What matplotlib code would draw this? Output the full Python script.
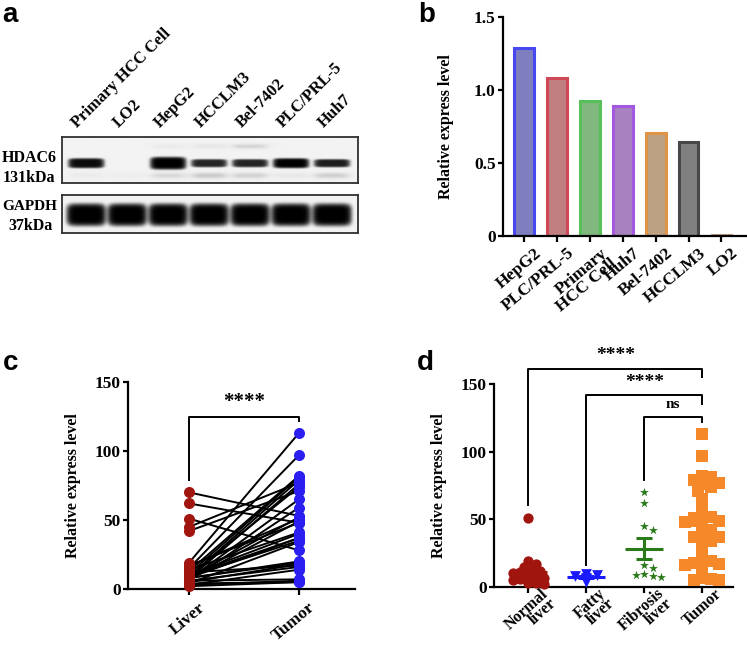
import numpy as np
import matplotlib
matplotlib.use('Agg')
import matplotlib.pyplot as plt
import matplotlib.transforms as mtransforms

# ---------------- data ----------------
lanes = ['Primary HCC Cell', 'LO2', 'HepG2', 'HCCLM3', 'Bel-7402', 'PLC/PRL-5', 'Huh7']
hdac6_band = [0.95, 0.0, 1.0, 0.85, 0.85, 1.0, 0.88]
hdac6_thick = [0.11, 0.11, 0.14, 0.09, 0.09, 0.11, 0.09]
hdac6_lower = [0.03, 0.02, 0.10, 0.16, 0.13, 0.04, 0.14]
hdac6_upper = [0.0, 0.0, 0.03, 0.05, 0.12, 0.0, 0.0]
gapdh_band = [1.0, 1.0, 1.0, 1.0, 1.0, 1.0, 1.0]

cells = ['HepG2', 'PLC/PRL-5', 'Primary\nHCC Cell', 'Huh7', 'Bel-7402', 'HCCLM3', 'LO2']
cell_level = [1.29, 1.085, 0.925, 0.89, 0.705, 0.645, 0.008]
cell_fill = ['#7f7fc0', '#c07f80', '#80b880', '#a882c0', '#bca183', '#808080', '#c0a080']
cell_edge = ['#4848f0', '#d04858', '#58c058', '#a458e0', '#e09448', '#484848', '#c0a080']

normal_liver = [51, 19, 17, 15, 13, 12, 11, 10, 9, 8, 7, 6, 6, 5, 4, 3, 3, 2]
fatty_liver = [9.5, 8.5, 8, 7, 6, 4]
fibrosis_liver = [70, 62, 45, 42, 16.5, 14, 9.5, 9, 8, 7.5]
# tumour values paired with normal, fatty and fibrosis samples (same order)
tumor_normal = [28, 113, 48, 97, 82, 17, 81, 40, 79, 37, 65, 7, 59, 18, 34, 6, 14, 5]
tumor_fatty = [74, 52, 20, 49, 16, 5]
tumor_fibrosis = [53, 48, 77, 71, 51, 41, 37, 35, 19, 76]

groups = ['Normal\nliver', 'Fatty\nliver', 'Fibrosis\nliver', 'Tumor']

serif = 'Liberation Serif'
sans = 'Liberation Sans'
plt.rcParams['font.family'] = serif
plt.rcParams['font.weight'] = 'bold'

W, H = 747, 645
fig = plt.figure(figsize=(W / 100, H / 100), dpi=100)


def box(l, t, r, b):
    return [l / W, 1 - b / H, (r - l) / W, (b - t) / H]


def style_axes(ax, lw=1.6):
    for s in ['top', 'right']:
        ax.spines[s].set_visible(False)
    for s in ['left', 'bottom']:
        ax.spines[s].set_linewidth(lw)
    ax.tick_params(width=lw, length=3.8, labelsize=12.5, pad=1.5)
    for t in ax.get_yticklabels() + ax.get_xticklabels():
        t.set_fontweight('bold')


def shift_xlabels(ax, dx, dy):
    off = mtransforms.ScaledTranslation(dx / 100, -dy / 100, fig.dpi_scale_trans)
    for t in ax.get_xticklabels():
        t.set_transform(t.get_transform() + off)


# ---------------- panel a : blot ----------------
def lane_pos(i):
    return 0.57 + 0.97 * i


def blot(ax, levels, y0, thick, ww, extra=()):
    n = len(levels)
    xs = np.linspace(0, n, 700)
    ys = np.linspace(0, 1, 140)
    X, Y = np.meshgrid(xs, ys)
    img = np.full_like(X, 0.95)
    for i, a in enumerate(levels):
        hh = thick[i] if np.ndim(thick) else thick
        dx = (X - lane_pos(i)) / ww
        dy = (Y - y0) / hh
        r = (np.abs(dx) ** 6 + np.abs(dy) ** 4)
        img -= a * np.exp(-r ** 1.6) * 0.95
    for lev, yy, hy in extra:
        for i, a in enumerate(lev):
            fx = 1 / (1 + ((X - lane_pos(i)) / (ww * 0.9)) ** 6)
            fy = np.exp(-((Y - yy) / hy) ** 2)
            img -= a * fx * fy
    ax.imshow(np.clip(img, 0, 1), cmap='gray', vmin=0, vmax=1,
              extent=(0, n, 1, 0), aspect='auto', interpolation='bilinear')
    ax.set_xticks([])
    ax.set_yticks([])
    for s in ax.spines.values():
        s.set_linewidth(1.3)
        s.set_color('#303030')


ax_h = fig.add_axes(box(62, 137, 358, 183))
blot(ax_h, hdac6_band, 0.57, hdac6_thick, 0.43,
     extra=[(hdac6_lower, 0.84, 0.06), (hdac6_upper, 0.2, 0.05)])
ax_g = fig.add_axes(box(62, 195, 358, 233))
blot(ax_g, gapdh_band, 0.52, 0.3, 0.47)

for i, name in enumerate(lanes):
    ax_h.text(lane_pos(i) - 0.2, -0.2, name, rotation=45, rotation_mode='anchor',
              ha='left', va='baseline', fontsize=12, fontweight='bold',
              transform=ax_h.transData, clip_on=False)

fig.text(2 / W, 1 - 162 / H, 'HDAC6', fontsize=11.5, fontweight='bold', va='baseline')
fig.text(3 / W, 1 - 182 / H, '131kDa', fontsize=11.5, fontweight='bold', va='baseline')
fig.text(2 / W, 1 - 210 / H, 'GAPDH', fontsize=11, fontweight='bold', va='baseline')
fig.text(8 / W, 1 - 230 / H, '37kDa', fontsize=11.5, fontweight='bold', va='baseline')

# ---------------- panel b : bars ----------------
ax_b = fig.add_axes(box(503, 17, 746, 236))
xb = np.arange(len(cells))
ax_b.bar(xb, cell_level, width=0.6, color=cell_fill, edgecolor=cell_edge,
         linewidth=2.2, zorder=2)
ax_b.set_xlim(-0.65, 6.75)
ax_b.set_ylim(0, 1.5)
ax_b.set_yticks([0, 0.5, 1.0, 1.5])
ax_b.set_yticklabels(['0', '0.5', '1.0', '1.5'])
ax_b.set_xticks(xb)
ax_b.set_xticklabels(cells, rotation=40, ha='right', rotation_mode='anchor',
                     linespacing=0.85)
ax_b.set_ylabel('Relative express level', fontsize=11.5, fontweight='bold', labelpad=14)
style_axes(ax_b)
ax_b.tick_params(axis='x', length=4.5, pad=2)
shift_xlabels(ax_b, 10, 0)

# ---------------- panel c : paired ----------------
liver_all = normal_liver + fatty_liver + fibrosis_liver
tumor_all = tumor_normal + tumor_fatty + tumor_fibrosis

ax_c = fig.add_axes(box(128, 382, 355, 589))
for lv, tv in zip(liver_all, tumor_all):
    ax_c.plot([0, 1], [lv, tv], color='black', lw=1.4, zorder=2, clip_on=False)
ax_c.scatter(np.zeros(len(liver_all)), liver_all, s=48, color='#a0160f', zorder=3, clip_on=False)
ax_c.scatter(np.ones(len(tumor_all)), tumor_all, s=48, color='#2a1ff0', zorder=3, clip_on=False)
ax_c.set_xlim(-0.555, 1.51)
ax_c.set_ylim(0, 150)
ax_c.set_yticks([0, 50, 100, 150])
ax_c.set_xticks([0, 1])
ax_c.set_xticklabels(['Liver', 'Tumor'], rotation=40, ha='right', rotation_mode='anchor')
ax_c.set_ylabel('Relative express level', fontsize=11.5, fontweight='bold', labelpad=10)
style_axes(ax_c)
ax_c.tick_params(axis='x', length=4.5, pad=3)
shift_xlabels(ax_c, 9, 0)
ax_c.plot([0, 0, 1, 1], [79, 125, 125, 122], color='black', lw=1.4, clip_on=False)
ax_c.text(0.5, 128, '****', ha='center', va='bottom', fontsize=15, fontweight='bold')


# ---------------- panel d : scatter by group ----------------
def swarm(values, diam, xpx=58.0, ypx=1.351, maxoff=19):
    order = np.argsort(values)[::-1]
    placed = []
    offs = np.zeros(len(values))
    for k in order:
        y = values[k] * ypx
        best = 0.0
        for step in range(30):
            cand = ((step + 1) // 2) * diam * 0.6 * (1 if step % 2 else -1)
            if abs(cand) > maxoff:
                break
            if all((cand - px) ** 2 + (y - py) ** 2 >= diam ** 2 for px, py in placed):
                best = cand
                break
        placed.append((best, y))
        offs[k] = best / xpx
    return offs


ax_d = fig.add_axes(box(494, 384, 733, 587))
data_d = [normal_liver, fatty_liver, fibrosis_liver, tumor_all]
colors_d = ['#a0160f', '#1a1aff', '#2a7a1a', '#f5892a']
markers_d = ['o', 'v', '*', 's']
sizes_d = [55, 60, 45, 70]
diams = [6.5, 9, 7, 7]
for i, vals in enumerate(data_d):
    vals = np.array(vals, dtype=float)
    off = swarm(vals, diams[i])
    ax_d.scatter(i + off, vals, s=sizes_d[i], marker=markers_d[i], color=colors_d[i],
                 zorder=3, clip_on=False, linewidths=0)
    m = vals.mean()
    sem = vals.std(ddof=1) / np.sqrt(len(vals))
    ax_d.hlines(m, i - 0.33, i + 0.33, color=colors_d[i], lw=2.2, zorder=4)
    ax_d.errorbar(i, m, yerr=sem, color=colors_d[i], capsize=6, capthick=2.2,
                  elinewidth=2.2, zorder=4)
ax_d.set_xlim(-0.59, 3.53)
ax_d.set_ylim(0, 150)
ax_d.set_yticks([0, 50, 100, 150])
ax_d.set_xticks(range(4))
ax_d.set_xticklabels(groups, rotation=42, ha='right', rotation_mode='anchor',
                     linespacing=0.78, fontsize=11.5)
ax_d.set_ylabel('Relative express level', fontsize=11.5, fontweight='bold', labelpad=10)
style_axes(ax_d)
ax_d.tick_params(axis='x', length=4.5, pad=1, labelsize=11.5)
shift_xlabels(ax_d, 12, -9)

brackets = [(0, 60.6, 161, 155, '****', 165), (1, 16, 141.6, 135, '****', 145),
            (2, 79, 125.6, 122, 'ns', 130)]
for x0, ylo, ytop, yr, lab, ytxt in brackets:
    ax_d.plot([x0, x0, 3, 3], [ylo, ytop, ytop, yr], color='black', lw=1.4, clip_on=False)
    ax_d.text((x0 + 3) / 2 if lab != 'ns' else 2.5, ytxt, lab, ha='center', va='bottom',
              fontsize=14 if lab != 'ns' else 11, fontweight='bold', clip_on=False)

# ---------------- panel letters ----------------
for lab, x, y in [('a', 2, 22), ('b', 418, 22), ('c', 3, 370), ('d', 417, 370)]:
    fig.text(x / W, 1 - y / H, lab, fontsize=20, fontweight='bold', family=sans,
             va='baseline')

fig.savefig('out.png', dpi=100)
